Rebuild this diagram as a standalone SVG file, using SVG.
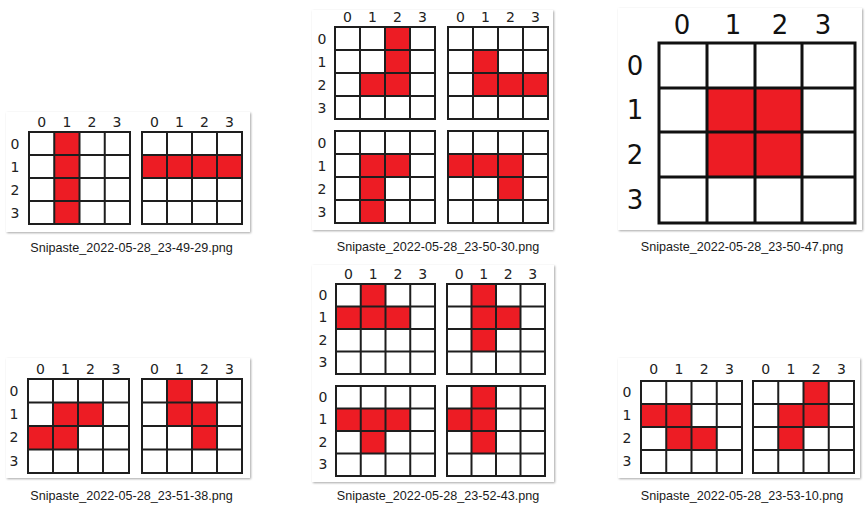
<svg xmlns="http://www.w3.org/2000/svg" width="868" height="509" viewBox="0 0 868 509">
<defs>
<filter id="sh" x="-5%" y="-5%" width="110%" height="110%">
<feDropShadow dx="1" dy="1" stdDeviation="1.3" flood-color="#000" flood-opacity="0.35"/>
</filter>
</defs>
<style>
.bg{fill:#fff;filter:url(#sh)}
.r{fill:#ed1c24}
.g{fill:none;stroke:#1e1e1e;stroke-width:2}
.gb{fill:none;stroke:#111;stroke-width:3}
.l{font-family:"DejaVu Sans","Liberation Sans",sans-serif;font-size:14px;fill:#222;text-anchor:middle}
.lb{font-family:"DejaVu Sans","Liberation Sans",sans-serif;font-size:26px;fill:#111;text-anchor:middle}
.cap{font-family:"Liberation Sans",Arial,sans-serif;font-size:12.6px;fill:#1a1a1a;text-anchor:middle}
</style>
<rect width="868" height="509" fill="#fff"/>

<g id="thumb-49-29">
<rect class="bg" x="6" y="112" width="244" height="120"/>
<g class="l">
<text x="41.6" y="127">0</text><text x="66.9" y="127">1</text><text x="92" y="127">2</text><text x="117" y="127">3</text>
<text x="154.5" y="127">0</text><text x="179.5" y="127">1</text><text x="204.5" y="127">2</text><text x="229.5" y="127">3</text>
<text x="15" y="148.5">0</text><text x="15" y="171.5">1</text><text x="15" y="194.5">2</text><text x="15" y="217.5">3</text>
</g>
<rect class="r" x="54.25" y="132" width="25.25" height="92"/>
<path class="g" d="M29 132H130V224H29Z M54.25 132V224 M79.5 132V224 M104.75 132V224 M29 155H130 M29 178H130 M29 201H130"/>
<rect class="r" x="142" y="155" width="100" height="23"/>
<path class="g" d="M142 132H242V224H142Z M167 132V224 M192 132V224 M217 132V224 M142 155H242 M142 178H242 M142 201H242"/>
<text class="cap" x="131.5" y="252">Snipaste_2022-05-28_23-49-29.png</text>
</g>

<g id="thumb-50-30">
<rect class="bg" x="312" y="10" width="241" height="220"/>
<g class="l">
<text x="347.5" y="22">0</text><text x="372.5" y="22">1</text><text x="397.5" y="22">2</text><text x="422.5" y="22">3</text>
<text x="460.5" y="22">0</text><text x="485.5" y="22">1</text><text x="510.5" y="22">2</text><text x="535.5" y="22">3</text>
<text x="322" y="43.5">0</text><text x="322" y="66.5">1</text><text x="322" y="89.5">2</text><text x="322" y="112.5">3</text>
<text x="322" y="147.5">0</text><text x="322" y="170.5">1</text><text x="322" y="193.5">2</text><text x="322" y="216.5">3</text>
</g>
<rect class="r" x="385" y="27" width="25" height="69"/>
<rect class="r" x="360" y="73" width="25" height="23"/>
<path class="g" d="M335 27H435V119H335Z M360 27V119 M385 27V119 M410 27V119 M335 50H435 M335 73H435 M335 96H435"/>
<rect class="r" x="473" y="50" width="25" height="23"/>
<rect class="r" x="473" y="73" width="75" height="23"/>
<path class="g" d="M448 27H548V119H448Z M473 27V119 M498 27V119 M523 27V119 M448 50H548 M448 73H548 M448 96H548"/>
<rect class="r" x="360" y="154" width="50" height="23"/>
<rect class="r" x="360" y="177" width="25" height="46"/>
<path class="g" d="M335 131H435V223H335Z M360 131V223 M385 131V223 M410 131V223 M335 154H435 M335 177H435 M335 200H435"/>
<rect class="r" x="448" y="154" width="75" height="23"/>
<rect class="r" x="498" y="177" width="25" height="23"/>
<path class="g" d="M448 131H548V223H448Z M473 131V223 M498 131V223 M523 131V223 M448 154H548 M448 177H548 M448 200H548"/>
<text class="cap" x="438" y="251">Snipaste_2022-05-28_23-50-30.png</text>
</g>

<g id="thumb-50-47">
<rect class="bg" x="618" y="8" width="244" height="222"/>
<g class="lb">
<text x="682" y="34">0</text><text x="733" y="34">1</text><text x="780" y="34">2</text><text x="823" y="34">3</text>
<text x="635" y="75">0</text><text x="635" y="119">1</text><text x="635" y="164">2</text><text x="635" y="209">3</text>
</g>
<rect class="r" x="707" y="88" width="95" height="89"/>
<path class="gb" d="M659 43H855V223H659Z M707 43V223 M755 43V223 M802 43V223 M659 88H855 M659 132H855 M659 177H855"/>
<text class="cap" x="742" y="251">Snipaste_2022-05-28_23-50-47.png</text>
</g>

<g id="thumb-51-38">
<rect class="bg" x="6" y="358" width="244" height="120"/>
<g class="l">
<text x="40.5" y="374">0</text><text x="65.5" y="374">1</text><text x="90.5" y="374">2</text><text x="116" y="374">3</text>
<text x="154.5" y="374">0</text><text x="179.5" y="374">1</text><text x="204.5" y="374">2</text><text x="229.5" y="374">3</text>
<text x="14" y="396">0</text><text x="14" y="419">1</text><text x="14" y="442">2</text><text x="14" y="466">3</text>
</g>
<rect class="r" x="53" y="402.5" width="50" height="23.5"/>
<rect class="r" x="28" y="426" width="50" height="23.5"/>
<path class="g" d="M28 379H129V473H28Z M53 379V473 M78 379V473 M103 379V473 M28 402.5H129 M28 426H129 M28 449.5H129"/>
<rect class="r" x="167" y="379" width="25" height="47"/>
<rect class="r" x="192" y="402.5" width="25" height="47"/>
<path class="g" d="M142 379H242V473H142Z M167 379V473 M192 379V473 M217 379V473 M142 402.5H242 M142 426H242 M142 449.5H242"/>
<text class="cap" x="131.5" y="500">Snipaste_2022-05-28_23-51-38.png</text>
</g>

<g id="thumb-52-43">
<rect class="bg" x="312" y="265" width="242" height="217"/>
<g class="l">
<text x="348.4" y="279">0</text><text x="373.1" y="279">1</text><text x="397.9" y="279">2</text><text x="422.6" y="279">3</text>
<text x="459.3" y="279">0</text><text x="483.8" y="279">1</text><text x="508.3" y="279">2</text><text x="532.8" y="279">3</text>
<text x="323" y="300">0</text><text x="323" y="322">1</text><text x="323" y="345">2</text><text x="323" y="367">3</text>
<text x="323" y="402">0</text><text x="323" y="424">1</text><text x="323" y="447">2</text><text x="323" y="469">3</text>
</g>
<rect class="r" x="360.75" y="284" width="24.75" height="22.5"/>
<rect class="r" x="336" y="306.5" width="74.25" height="22.5"/>
<path class="g" d="M336 284H435V374H336Z M360.75 284V374 M385.5 284V374 M410.25 284V374 M336 306.5H435 M336 329H435 M336 351.5H435"/>
<rect class="r" x="471.5" y="284" width="24.5" height="67.5"/>
<rect class="r" x="496" y="306.5" width="24.5" height="22.5"/>
<path class="g" d="M447 284H545V374H447Z M471.5 284V374 M496 284V374 M520.5 284V374 M447 306.5H545 M447 329H545 M447 351.5H545"/>
<rect class="r" x="336" y="408.5" width="74.25" height="22.5"/>
<rect class="r" x="360.75" y="431" width="24.75" height="22.5"/>
<path class="g" d="M336 386H435V476H336Z M360.75 386V476 M385.5 386V476 M410.25 386V476 M336 408.5H435 M336 431H435 M336 453.5H435"/>
<rect class="r" x="471.5" y="386" width="24.5" height="67.5"/>
<rect class="r" x="447" y="408.5" width="24.5" height="22.5"/>
<path class="g" d="M447 386H545V476H447Z M471.5 386V476 M496 386V476 M520.5 386V476 M447 408.5H545 M447 431H545 M447 453.5H545"/>
<text class="cap" x="438" y="500">Snipaste_2022-05-28_23-52-43.png</text>
</g>

<g id="thumb-53-10">
<rect class="bg" x="618" y="358" width="242" height="120"/>
<g class="l">
<text x="653.6" y="374">0</text><text x="678.9" y="374">1</text><text x="704.1" y="374">2</text><text x="729.4" y="374">3</text>
<text x="765.6" y="374">0</text><text x="790.9" y="374">1</text><text x="816.1" y="374">2</text><text x="841.4" y="374">3</text>
<text x="627" y="397">0</text><text x="627" y="420">1</text><text x="627" y="443">2</text><text x="627" y="466">3</text>
</g>
<rect class="r" x="641" y="404" width="50.5" height="23"/>
<rect class="r" x="666.25" y="427" width="50.5" height="23"/>
<path class="g" d="M641 381H742V473H641Z M666.25 381V473 M691.5 381V473 M716.75 381V473 M641 404H742 M641 427H742 M641 450H742"/>
<rect class="r" x="803.5" y="381" width="25.25" height="46"/>
<rect class="r" x="778.25" y="404" width="25.25" height="46"/>
<path class="g" d="M753 381H854V473H753Z M778.25 381V473 M803.5 381V473 M828.75 381V473 M753 404H854 M753 427H854 M753 450H854"/>
<text class="cap" x="742" y="500">Snipaste_2022-05-28_23-53-10.png</text>
</g>
</svg>
